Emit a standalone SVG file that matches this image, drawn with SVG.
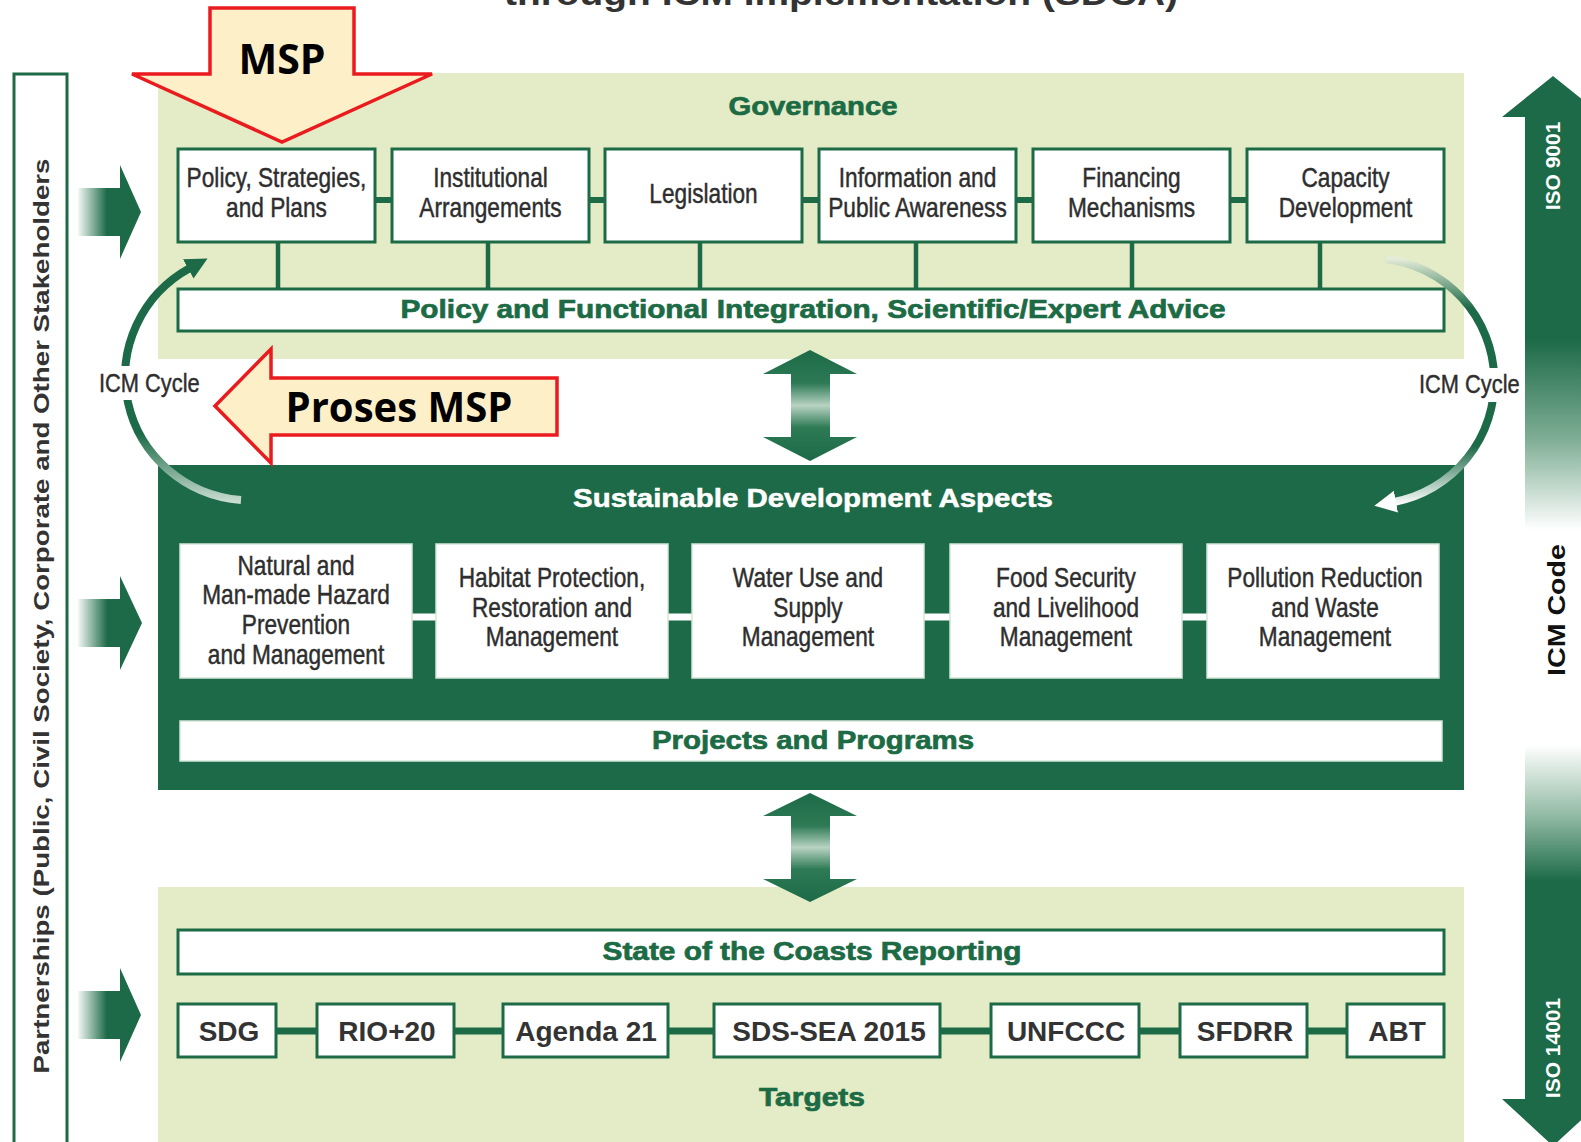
<svg xmlns="http://www.w3.org/2000/svg" width="1581" height="1142" viewBox="0 0 1581 1142">
<defs>
<style>
.panel{fill:#e3ecc6}
.gbox{fill:#fff;stroke:#1d6b46;stroke-width:3}
.sdbox{fill:#fff;stroke:#d3e6da;stroke-width:1.5}
.lbl{font-family:"Liberation Sans",Arial,sans-serif;font-size:27px;fill:#2e2e2e;stroke:#2e2e2e;stroke-width:0.45;text-anchor:middle}
.head{font-family:"Liberation Sans",Arial,sans-serif;font-weight:bold;font-size:26px;fill:#1c6b45;text-anchor:middle;stroke:#1c6b45;stroke-width:0.7}
.headw{font-family:"Liberation Sans",Arial,sans-serif;font-weight:bold;font-size:26px;fill:#fff;text-anchor:middle;stroke:#fff;stroke-width:0.5}
.tgt{font-family:"Liberation Sans",Arial,sans-serif;font-weight:bold;font-size:28px;fill:#333;text-anchor:middle}
.cyc{font-family:"Liberation Sans",Arial,sans-serif;font-size:26px;fill:#2e2e2e;stroke:#2e2e2e;stroke-width:0.45}
.msp{font-family:"Open Sans","Liberation Sans",sans-serif;font-weight:bold;font-size:42px;fill:#000;text-anchor:middle}
.red{fill:#fdf0c8;stroke:#ea1b1f;stroke-width:3.5;stroke-linejoin:miter}
.gline{stroke:#1d6b46;fill:none}
.wline{stroke:#fff;fill:none}
.side{font-family:"Liberation Sans",Arial,sans-serif;font-weight:bold;text-anchor:middle}
</style>
<linearGradient id="gLeftArr" x1="0" y1="0" x2="1" y2="0">
<stop offset="0" stop-color="#f4f8f5"/>
<stop offset="0.46" stop-color="#1c6a47"/>
<stop offset="1" stop-color="#1c6a47"/>
</linearGradient>
<linearGradient id="gDbl" x1="0" y1="0" x2="0" y2="1">
<stop offset="0" stop-color="#1c6a47"/>
<stop offset="0.3" stop-color="#2d7a55"/>
<stop offset="0.5" stop-color="#b8d3c2"/>
<stop offset="0.7" stop-color="#2d7a55"/>
<stop offset="1" stop-color="#1c6a47"/>
</linearGradient>
<linearGradient id="gUp" gradientUnits="userSpaceOnUse" x1="0" y1="76" x2="0" y2="530">
<stop offset="0" stop-color="#1c6a47"/>
<stop offset="0.58" stop-color="#1c6a47"/>
<stop offset="0.8" stop-color="#7fae95"/>
<stop offset="1" stop-color="#ffffff"/>
</linearGradient>
<linearGradient id="gDown" gradientUnits="userSpaceOnUse" x1="0" y1="745" x2="0" y2="1146">
<stop offset="0" stop-color="#ffffff"/>
<stop offset="0.18" stop-color="#8fb9a2"/>
<stop offset="0.34" stop-color="#1c6a47"/>
<stop offset="1" stop-color="#1c6a47"/>
</linearGradient>
<linearGradient id="gArcL" gradientUnits="userSpaceOnUse" x1="0" y1="257" x2="0" y2="502">
<stop offset="0" stop-color="#1c6a47"/>
<stop offset="0.72" stop-color="#1c6a47"/>
<stop offset="1" stop-color="#c9ddd0"/>
</linearGradient>
<linearGradient id="gArcR" gradientUnits="userSpaceOnUse" x1="0" y1="259" x2="0" y2="505">
<stop offset="0" stop-color="#e4ecd8"/>
<stop offset="0.2" stop-color="#1c6a47"/>
<stop offset="0.76" stop-color="#1c6a47"/>
<stop offset="1" stop-color="#ffffff"/>
</linearGradient>
<marker id="ahDark" markerUnits="userSpaceOnUse" markerWidth="24" markerHeight="24" viewBox="0 0 24 24" refX="2" refY="12" orient="auto">
<path d="M0,1 L22,12 L0,23 z" fill="#1c6a47"/>
</marker>
<marker id="ahWhite" markerUnits="userSpaceOnUse" markerWidth="24" markerHeight="24" viewBox="0 0 24 24" refX="2" refY="12" orient="auto">
<path d="M0,1 L22,12 L0,23 z" fill="#ffffff"/>
</marker>
</defs>

<rect x="0" y="0" width="1581" height="1142" fill="#ffffff"/>

<text x="841" y="5" font-family="'Liberation Sans',Arial,sans-serif" font-weight="bold" font-size="34" fill="#333" text-anchor="middle" textLength="674" lengthAdjust="spacingAndGlyphs">through ICM Implementation (SDCA)</text>

<!-- Panels -->
<g id="governance-panel">
<rect class="panel" x="158" y="73" width="1306" height="286"/>
<text class="head" x="813" y="115" textLength="169" lengthAdjust="spacingAndGlyphs">Governance</text>
</g>
<g id="sd-panel">
<rect x="158" y="465" width="1306" height="325" fill="#1c6a47"/>
<text class="headw" x="813" y="507" textLength="480" lengthAdjust="spacingAndGlyphs">Sustainable Development Aspects</text>
</g>
<g id="targets-panel">
<rect class="panel" x="158" y="887" width="1306" height="255"/>
<text class="head" x="812" y="1106" textLength="106" lengthAdjust="spacingAndGlyphs">Targets</text>
</g>

<!-- Connectors -->
<g id="connectors">
<g class="gline" stroke-width="6">
<line x1="375" y1="200" x2="392" y2="200"/>
<line x1="589" y1="200" x2="605" y2="200"/>
<line x1="802" y1="200" x2="819" y2="200"/>
<line x1="1016" y1="200" x2="1033" y2="200"/>
<line x1="1230" y1="200" x2="1247" y2="200"/>
</g>
<g class="gline" stroke-width="4.5">
<line x1="278" y1="242" x2="278" y2="289"/>
<line x1="488" y1="242" x2="488" y2="289"/>
<line x1="700" y1="242" x2="700" y2="289"/>
<line x1="916" y1="242" x2="916" y2="289"/>
<line x1="1132" y1="242" x2="1132" y2="289"/>
<line x1="1320" y1="242" x2="1320" y2="289"/>
</g>
<g class="wline" stroke-width="7">
<line x1="412" y1="617" x2="436" y2="617"/>
<line x1="668" y1="617" x2="692" y2="617"/>
<line x1="924" y1="617" x2="950" y2="617"/>
<line x1="1182" y1="617" x2="1207" y2="617"/>
</g>
<g class="gline" stroke-width="7">
<line x1="276" y1="1031" x2="317" y2="1031"/>
<line x1="454" y1="1031" x2="503" y2="1031"/>
<line x1="668" y1="1031" x2="714" y2="1031"/>
<line x1="940" y1="1031" x2="991" y2="1031"/>
<line x1="1139" y1="1031" x2="1180" y2="1031"/>
<line x1="1307" y1="1031" x2="1347" y2="1031"/>
</g>
<!-- double arrows -->
<polygon fill="url(#gDbl)" points="810,350 857,374 830,374 830,437 857,437 810,461 763,437 791,437 791,374 763,374"/>
<polygon fill="url(#gDbl)" points="810,793 857,816 830,816 830,879 857,879 810,902 763,879 791,879 791,816 763,816"/>
<!-- left block arrows -->
<polygon fill="url(#gLeftArr)" points="78,188 120,188 120,165 141,212 120,259 120,236 78,236"/>
<polygon fill="url(#gLeftArr)" points="78,599 120,599 120,576 142,623 120,670 120,647 78,647"/>
<polygon fill="url(#gLeftArr)" points="78,991 120,991 120,968 141,1015 120,1062 120,1039 78,1039"/>
<!-- ICM cycle arcs -->
<path d="M 241 500 A 126 124 0 0 1 190 268" stroke="url(#gArcL)" stroke-width="8" fill="none" marker-end="url(#ahDark)"/>
<path d="M 1386 259 A 123 123 0 0 1 1394 502" stroke="url(#gArcR)" stroke-width="8" fill="none" marker-end="url(#ahWhite)"/>
</g>

<!-- ICM cycle labels -->
<g id="icm-cycle-left">
<rect x="96" y="366" width="108" height="34" fill="#fff"/>
<g transform="translate(99,0) scale(0.84,1)"><text class="cyc" x="0" y="392">ICM Cycle</text></g>
</g>
<g id="icm-cycle-right">
<rect x="1415" y="368" width="108" height="34" fill="#fff"/>
<g transform="translate(1419,0) scale(0.84,1)"><text class="cyc" x="0" y="393">ICM Cycle</text></g>
</g>

<!-- Governance boxes -->
<g id="gov-policy"><rect class="gbox" x="178" y="149" width="197" height="93"/><g transform="translate(276.5,0) scale(0.84,1)"><text class="lbl" x="0" y="187">Policy, Strategies,</text><text class="lbl" x="0" y="217">and Plans</text></g></g>
<g id="gov-institutional"><rect class="gbox" x="392" y="149" width="197" height="93"/><g transform="translate(490.5,0) scale(0.84,1)"><text class="lbl" x="0" y="187">Institutional</text><text class="lbl" x="0" y="217">Arrangements</text></g></g>
<g id="gov-legislation"><rect class="gbox" x="605" y="149" width="197" height="93"/><g transform="translate(703.5,0) scale(0.84,1)"><text class="lbl" x="0" y="203">Legislation</text></g></g>
<g id="gov-information"><rect class="gbox" x="819" y="149" width="197" height="93"/><g transform="translate(917.5,0) scale(0.84,1)"><text class="lbl" x="0" y="187">Information and</text><text class="lbl" x="0" y="217">Public Awareness</text></g></g>
<g id="gov-financing"><rect class="gbox" x="1033" y="149" width="197" height="93"/><g transform="translate(1131.5,0) scale(0.84,1)"><text class="lbl" x="0" y="187">Financing</text><text class="lbl" x="0" y="217">Mechanisms</text></g></g>
<g id="gov-capacity"><rect class="gbox" x="1247" y="149" width="197" height="93"/><g transform="translate(1345.5,0) scale(0.84,1)"><text class="lbl" x="0" y="187">Capacity</text><text class="lbl" x="0" y="217">Development</text></g></g>

<g id="integration-bar"><rect class="gbox" x="178" y="289" width="1266" height="42"/><text class="head" x="813" y="318" font-size="24" textLength="825" lengthAdjust="spacingAndGlyphs">Policy and Functional Integration, Scientific/Expert Advice</text></g>

<!-- SD boxes -->
<g id="sd-hazard"><rect class="sdbox" x="180" y="544" width="232" height="134"/><g transform="translate(296,0) scale(0.84,1)"><text class="lbl" x="0" y="575">Natural and</text><text class="lbl" x="0" y="604">Man-made Hazard</text><text class="lbl" x="0" y="634">Prevention</text><text class="lbl" x="0" y="664">and Management</text></g></g>
<g id="sd-habitat"><rect class="sdbox" x="436" y="544" width="232" height="134"/><g transform="translate(552,0) scale(0.84,1)"><text class="lbl" x="0" y="587">Habitat Protection,</text><text class="lbl" x="0" y="617">Restoration and</text><text class="lbl" x="0" y="646">Management</text></g></g>
<g id="sd-water"><rect class="sdbox" x="692" y="544" width="232" height="134"/><g transform="translate(808,0) scale(0.84,1)"><text class="lbl" x="0" y="587">Water Use and</text><text class="lbl" x="0" y="617">Supply</text><text class="lbl" x="0" y="646">Management</text></g></g>
<g id="sd-food"><rect class="sdbox" x="950" y="544" width="232" height="134"/><g transform="translate(1066,0) scale(0.84,1)"><text class="lbl" x="0" y="587">Food Security</text><text class="lbl" x="0" y="617">and Livelihood</text><text class="lbl" x="0" y="646">Management</text></g></g>
<g id="sd-pollution"><rect class="sdbox" x="1207" y="544" width="232" height="134"/><g transform="translate(1325,0) scale(0.84,1)"><text class="lbl" x="0" y="587">Pollution Reduction</text><text class="lbl" x="0" y="617">and Waste</text><text class="lbl" x="0" y="646">Management</text></g></g>

<g id="projects-bar"><rect class="sdbox" x="180" y="721" width="1262" height="40"/><text class="head" x="813" y="749" textLength="322" lengthAdjust="spacingAndGlyphs">Projects and Programs</text></g>

<!-- Targets -->
<g id="soc-bar"><rect class="gbox" x="178" y="930" width="1266" height="44"/><text class="head" x="812" y="960" textLength="419" lengthAdjust="spacingAndGlyphs">State of the Coasts Reporting</text></g>
<g id="t-sdg"><rect class="gbox" x="178" y="1004" width="98" height="53"/><text class="tgt" x="229" y="1041">SDG</text></g>
<g id="t-rio"><rect class="gbox" x="317" y="1004" width="137" height="53"/><text class="tgt" x="387" y="1041">RIO+20</text></g>
<g id="t-agenda"><rect class="gbox" x="503" y="1004" width="165" height="53"/><text class="tgt" x="586" y="1041">Agenda 21</text></g>
<g id="t-sdssea"><rect class="gbox" x="714" y="1004" width="226" height="53"/><text class="tgt" x="829" y="1041">SDS-SEA 2015</text></g>
<g id="t-unfccc"><rect class="gbox" x="991" y="1004" width="148" height="53"/><text class="tgt" x="1066" y="1041">UNFCCC</text></g>
<g id="t-sfdrr"><rect class="gbox" x="1180" y="1004" width="127" height="53"/><text class="tgt" x="1245" y="1041">SFDRR</text></g>
<g id="t-abt"><rect class="gbox" x="1347" y="1004" width="97" height="53"/><text class="tgt" x="1397" y="1041">ABT</text></g>

<!-- Partnerships bar -->
<g id="partnerships">
<rect x="14" y="74" width="53" height="1080" fill="#fff" stroke="#1d6b46" stroke-width="3"/>
<text class="side" transform="translate(49,616) rotate(-90)" font-size="22" fill="#333" textLength="915" lengthAdjust="spacingAndGlyphs">Partnerships (Public, Civil Society, Corporate and Other Stakeholders</text>
</g>

<!-- Right side -->
<g id="iso9001">
<polygon fill="url(#gUp)" points="1553,76 1604,117 1581,117 1581,530 1525,530 1525,117 1502,117"/>
<text class="side" transform="translate(1560,166) rotate(-90)" font-size="21" fill="#fff">ISO 9001</text>
</g>
<g id="icm-code">
<text class="side" transform="translate(1565,610) rotate(-90)" font-size="24" fill="#111" textLength="132" lengthAdjust="spacingAndGlyphs">ICM Code</text>
</g>
<g id="iso14001">
<polygon fill="url(#gDown)" points="1525,745 1581,745 1581,1099 1604,1099 1553,1146 1502,1099 1525,1099"/>
<text class="side" transform="translate(1560,1048) rotate(-90)" font-size="21" fill="#fff">ISO 14001</text>
</g>

<!-- MSP callouts -->
<g id="msp-arrow">
<polygon class="red" points="210,8 354,8 354,74 432,74 282,142 132,74 210,74"/>
<text class="msp" x="282" y="74" textLength="87" lengthAdjust="spacingAndGlyphs">MSP</text>
</g>
<g id="proses-msp-arrow">
<polygon class="red" points="215,406 271,349 271,378 557,378 557,435 271,435 271,463"/>
<text class="msp" x="399" y="422" textLength="227" lengthAdjust="spacingAndGlyphs">Proses MSP</text>
</g>
</svg>
